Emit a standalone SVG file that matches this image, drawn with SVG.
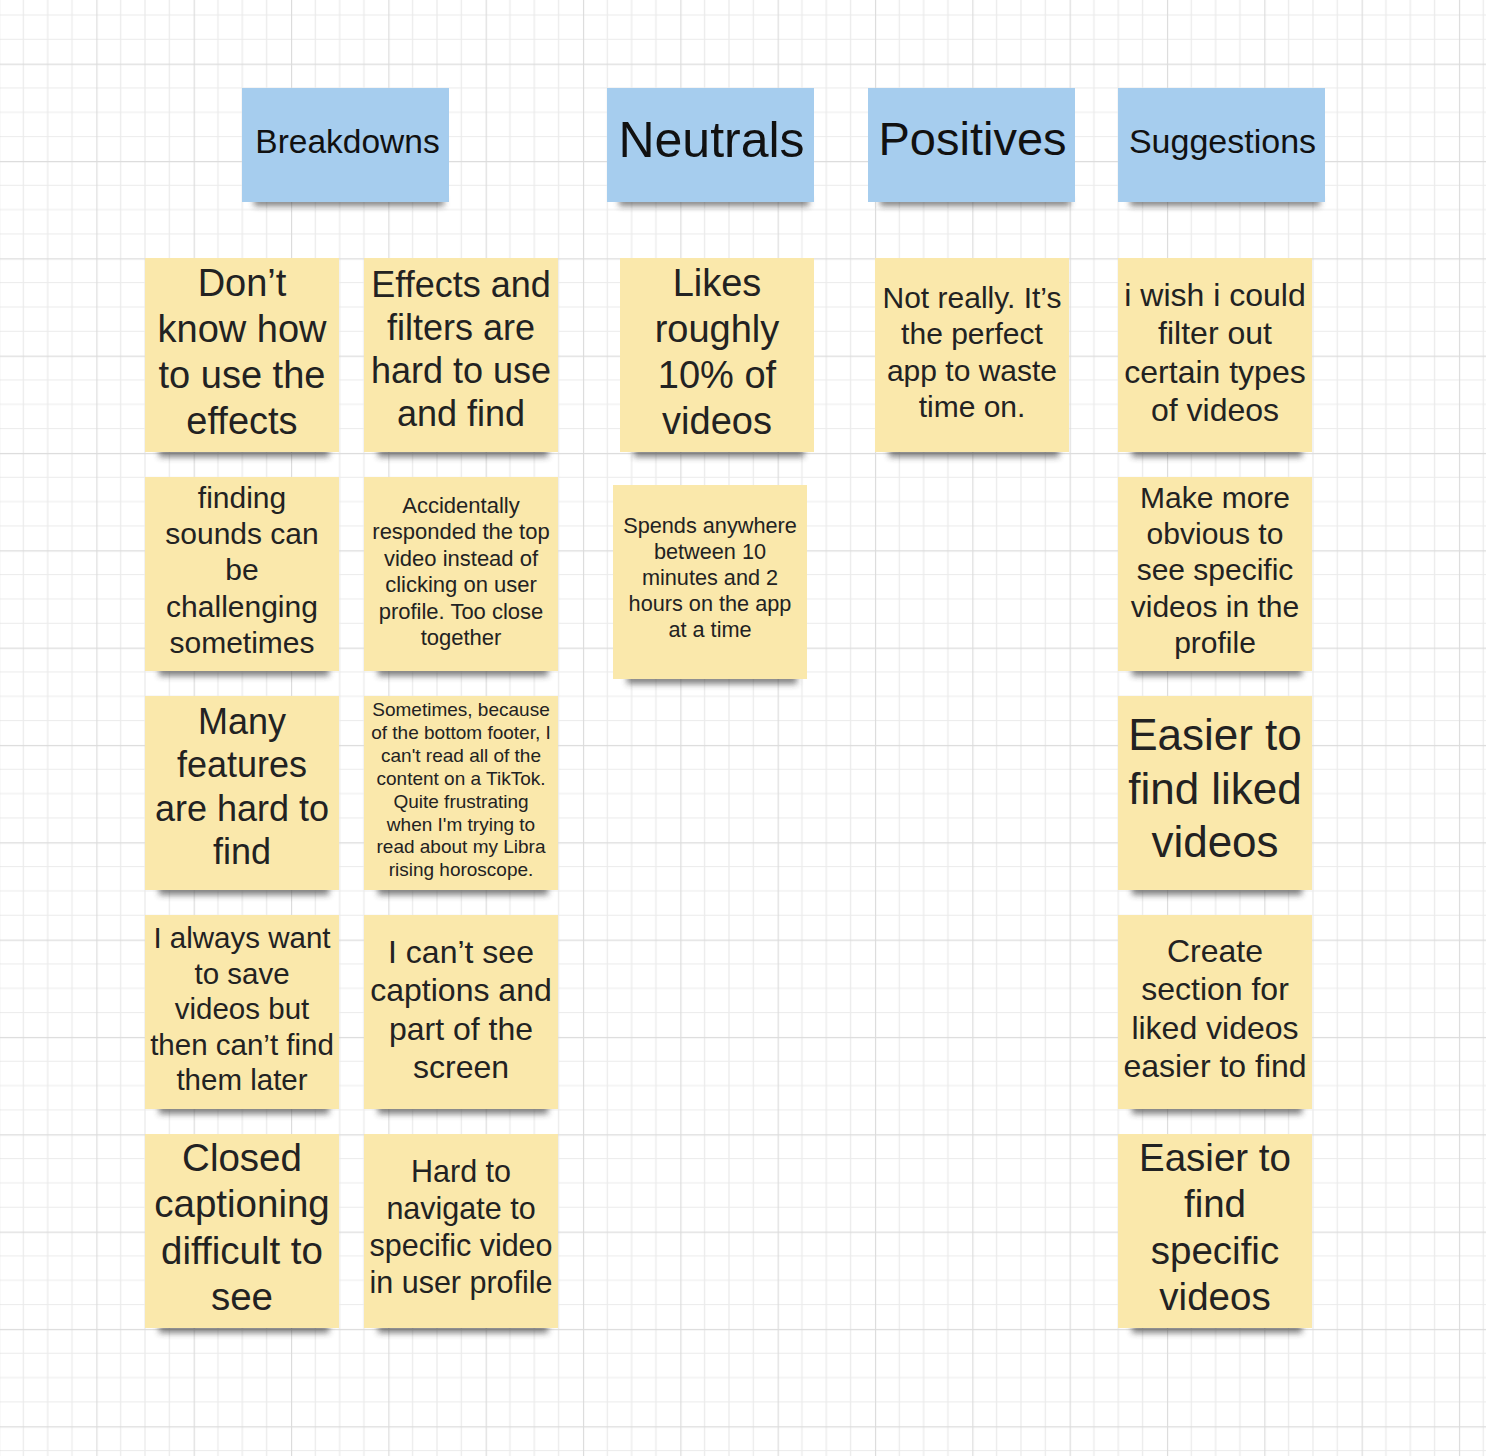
<svg xmlns="http://www.w3.org/2000/svg" width="1486" height="1456" viewBox="0 0 1486 1456">
<defs>
<pattern id="grid" patternUnits="userSpaceOnUse" x="-1" y="-33.7" width="97.33" height="97.33">
<rect width="97.33" height="97.33" fill="#ffffff"/>
<path d="M24.33 0V97.33M48.67 0V97.33M73 0V97.33M0 24.33H97.33M0 48.67H97.33M0 73H97.33" stroke="#ebebeb" stroke-width="1.2" fill="none"/>
<path d="M0.5 0V97.33M0 0.5H97.33" stroke="#dcdcdc" stroke-width="1.3" fill="none"/>
</pattern>
<filter id="blur" x="-20%" y="-200%" width="140%" height="500%"><feGaussianBlur stdDeviation="3"/></filter>
</defs>
<style>
.sh{fill:#2e2e2e;opacity:.6;filter:url(#blur)}
.hd{fill:#a6cdee}
.st{fill:#fae8ab}
text{font-family:"Liberation Sans",Arial,sans-serif;text-anchor:middle}
.ht{fill:#111111}
.tt{fill:#222222}
</style>
<rect width="1486" height="1456" fill="url(#grid)"/>
<g id="connectors"/>

<g id="h-breakdowns"><rect class="sh" x="254" y="197" width="190" height="9"/><rect class="hd" x="242" y="88" width="207" height="114"/><text class="ht" x="347.5" y="153" font-size="33.5">Breakdowns</text></g>
<g id="h-neutrals"><rect class="sh" x="619" y="197" width="190" height="9"/><rect class="hd" x="607" y="88" width="207" height="114"/><text class="ht" x="711.5" y="156.5" font-size="50">Neutrals</text></g>
<g id="h-positives"><rect class="sh" x="880" y="197" width="190" height="9"/><rect class="hd" x="868" y="88" width="207" height="114"/><text class="ht" x="972.5" y="155" font-size="47">Positives</text></g>
<g id="h-suggestions"><rect class="sh" x="1130" y="197" width="190" height="9"/><rect class="hd" x="1118" y="88" width="207" height="114"/><text class="ht" x="1222.5" y="153" font-size="34">Suggestions</text></g>

<g id="b1"><rect class="sh" x="159" y="447" width="170" height="10"/><rect class="st" x="145" y="258" width="194" height="194"/><text class="tt" x="242" y="296" font-size="38"><tspan x="242">Don’t</tspan><tspan x="242" dy="46">know how</tspan><tspan x="242" dy="46">to use the</tspan><tspan x="242" dy="46">effects</tspan></text></g>
<g id="b2"><rect class="sh" x="378" y="447" width="170" height="10"/><rect class="st" x="364" y="258" width="194" height="194"/><text class="tt" x="461" y="297" font-size="36"><tspan x="461">Effects and</tspan><tspan x="461" dy="43">filters are</tspan><tspan x="461" dy="43">hard to use</tspan><tspan x="461" dy="43">and find</tspan></text></g>
<g id="b3"><rect class="sh" x="159" y="666" width="170" height="10"/><rect class="st" x="145" y="477" width="194" height="194"/><text class="tt" x="242" y="508" font-size="30"><tspan x="242">finding</tspan><tspan x="242" dy="36.2">sounds can</tspan><tspan x="242" dy="36.2">be</tspan><tspan x="242" dy="36.2">challenging</tspan><tspan x="242" dy="36.2">sometimes</tspan></text></g>
<g id="b4"><rect class="sh" x="378" y="666" width="170" height="10"/><rect class="st" x="364" y="477" width="194" height="194"/><text class="tt" x="461" y="513" font-size="22"><tspan x="461">Accidentally</tspan><tspan x="461" dy="26.4">responded the top</tspan><tspan x="461" dy="26.4">video instead of</tspan><tspan x="461" dy="26.4">clicking on user</tspan><tspan x="461" dy="26.4">profile. Too close</tspan><tspan x="461" dy="26.4">together</tspan></text></g>
<g id="b5"><rect class="sh" x="159" y="885" width="170" height="10"/><rect class="st" x="145" y="696" width="194" height="194"/><text class="tt" x="242" y="734" font-size="36"><tspan x="242">Many</tspan><tspan x="242" dy="43.3">features</tspan><tspan x="242" dy="43.3">are hard to</tspan><tspan x="242" dy="43.3">find</tspan></text></g>
<g id="b6"><rect class="sh" x="378" y="885" width="170" height="10"/><rect class="st" x="364" y="696" width="194" height="194"/><text class="tt" x="461" y="716" font-size="19"><tspan x="461">Sometimes, because</tspan><tspan x="461" dy="22.9">of the bottom footer, I</tspan><tspan x="461" dy="22.9">can't read all of the</tspan><tspan x="461" dy="22.9">content on a TikTok.</tspan><tspan x="461" dy="22.9">Quite frustrating</tspan><tspan x="461" dy="22.9">when I'm trying to</tspan><tspan x="461" dy="22.9">read about my Libra</tspan><tspan x="461" dy="22.9">rising horoscope.</tspan></text></g>
<g id="b7"><rect class="sh" x="159" y="1104" width="170" height="10"/><rect class="st" x="145" y="915" width="194" height="194"/><text class="tt" x="242" y="948" font-size="29.5"><tspan x="242">I always want</tspan><tspan x="242" dy="35.5">to save</tspan><tspan x="242" dy="35.5">videos but</tspan><tspan x="242" dy="35.5">then can’t find</tspan><tspan x="242" dy="35.5">them later</tspan></text></g>
<g id="b8"><rect class="sh" x="378" y="1104" width="170" height="10"/><rect class="st" x="364" y="915" width="194" height="194"/><text class="tt" x="461" y="963" font-size="32"><tspan x="461">I can’t see</tspan><tspan x="461" dy="38.3">captions and</tspan><tspan x="461" dy="38.3">part of the</tspan><tspan x="461" dy="38.3">screen</tspan></text></g>
<g id="b9"><rect class="sh" x="159" y="1323" width="170" height="10"/><rect class="st" x="145" y="1134" width="194" height="194"/><text class="tt" x="242" y="1171" font-size="38.5"><tspan x="242">Closed</tspan><tspan x="242" dy="46.3">captioning</tspan><tspan x="242" dy="46.3">difficult to</tspan><tspan x="242" dy="46.3">see</tspan></text></g>
<g id="b10"><rect class="sh" x="378" y="1323" width="170" height="10"/><rect class="st" x="364" y="1134" width="194" height="194"/><text class="tt" x="461" y="1182" font-size="30.5"><tspan x="461">Hard to</tspan><tspan x="461" dy="37">navigate to</tspan><tspan x="461" dy="37">specific video</tspan><tspan x="461" dy="37">in user profile</tspan></text></g>

<g id="n1"><rect class="sh" x="634" y="447" width="170" height="10"/><rect class="st" x="620" y="258" width="194" height="194"/><text class="tt" x="717" y="296" font-size="38"><tspan x="717">Likes</tspan><tspan x="717" dy="46">roughly</tspan><tspan x="717" dy="46">10% of</tspan><tspan x="717" dy="46">videos</tspan></text></g>
<g id="n2"><rect class="sh" x="627" y="674" width="170" height="10"/><rect class="st" x="613" y="485" width="194" height="194"/><text class="tt" x="710" y="533" font-size="21.7"><tspan x="710">Spends anywhere</tspan><tspan x="710" dy="26">between 10</tspan><tspan x="710" dy="26">minutes and 2</tspan><tspan x="710" dy="26">hours on the app</tspan><tspan x="710" dy="26">at a time</tspan></text></g>

<g id="p1"><rect class="sh" x="889" y="447" width="170" height="10"/><rect class="st" x="875" y="258" width="194" height="194"/><text class="tt" x="972" y="308" font-size="30"><tspan x="972">Not really. It’s</tspan><tspan x="972" dy="36.3">the perfect</tspan><tspan x="972" dy="36.3">app to waste</tspan><tspan x="972" dy="36.3">time on.</tspan></text></g>

<g id="s1"><rect class="sh" x="1132" y="447" width="170" height="10"/><rect class="st" x="1118" y="258" width="194" height="194"/><text class="tt" x="1215" y="306" font-size="32"><tspan x="1215">i wish i could</tspan><tspan x="1215" dy="38.3">filter out</tspan><tspan x="1215" dy="38.3">certain types</tspan><tspan x="1215" dy="38.3">of videos</tspan></text></g>
<g id="s2"><rect class="sh" x="1132" y="666" width="170" height="10"/><rect class="st" x="1118" y="477" width="194" height="194"/><text class="tt" x="1215" y="508" font-size="30"><tspan x="1215">Make more</tspan><tspan x="1215" dy="36.2">obvious to</tspan><tspan x="1215" dy="36.2">see specific</tspan><tspan x="1215" dy="36.2">videos in the</tspan><tspan x="1215" dy="36.2">profile</tspan></text></g>
<g id="s3"><rect class="sh" x="1132" y="885" width="170" height="10"/><rect class="st" x="1118" y="696" width="194" height="194"/><text class="tt" x="1215" y="750" font-size="44"><tspan x="1215">Easier to</tspan><tspan x="1215" dy="53.5">find liked</tspan><tspan x="1215" dy="53.5">videos</tspan></text></g>
<g id="s4"><rect class="sh" x="1132" y="1104" width="170" height="10"/><rect class="st" x="1118" y="915" width="194" height="194"/><text class="tt" x="1215" y="962" font-size="32"><tspan x="1215">Create</tspan><tspan x="1215" dy="38.3">section for</tspan><tspan x="1215" dy="38.3">liked videos</tspan><tspan x="1215" dy="38.3">easier to find</tspan></text></g>
<g id="s5"><rect class="sh" x="1132" y="1323" width="170" height="10"/><rect class="st" x="1118" y="1134" width="194" height="194"/><text class="tt" x="1215" y="1171" font-size="38.5"><tspan x="1215">Easier to</tspan><tspan x="1215" dy="46.3">find</tspan><tspan x="1215" dy="46.3">specific</tspan><tspan x="1215" dy="46.3">videos</tspan></text></g>
</svg>
